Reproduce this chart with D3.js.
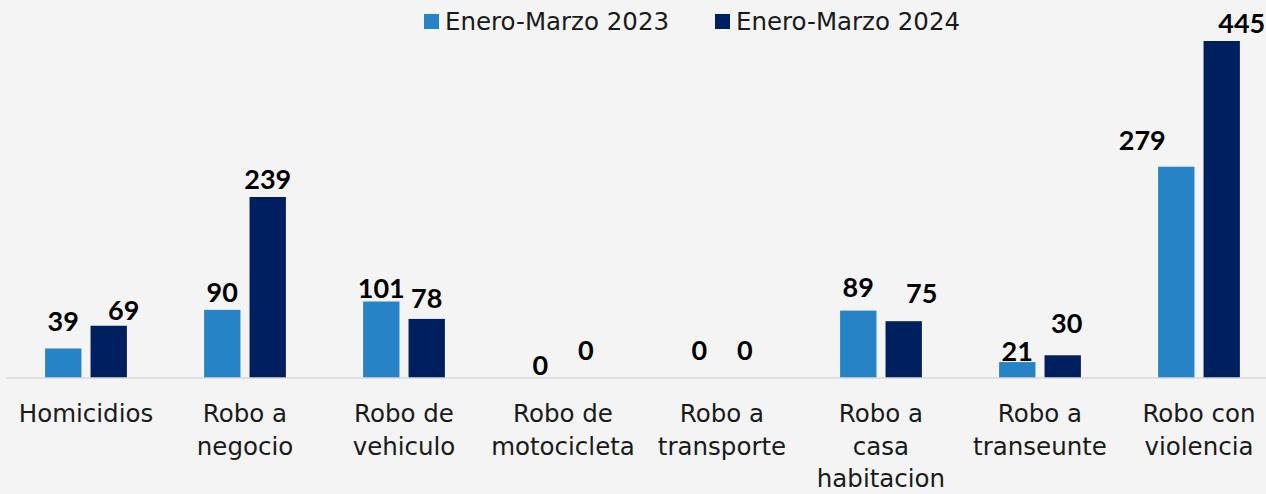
<!DOCTYPE html>
<html>
<head>
<meta charset="utf-8">
<script src="https://d3js.org/d3.v7.min.js"></script>
<style>
   body { margin: 0; background: #f4f4f4; }
   svg { display: block; }
</style>
</head>
<body>
<div id="chart"></div>
<script>
// incidencia delictiva, enero-marzo 2023 vs 2024

var categories = [
   ["Homicidios"],
   ["Robo a", "negocio"],
   ["Robo de", "vehiculo"],
   ["Robo de", "motocicleta"],
   ["Robo a", "transporte"],
   ["Robo a", "casa", "habitacion"],
   ["Robo a", "transeunte"],
   ["Robo con", "violencia"]
];
var series = ["Enero-Marzo 2023", "Enero-Marzo 2024"];
var values2023 = [39, 90, 101, 0, 0, 89, 21, 279];
var values2024 = [69, 239, 78, 0, 0, 75, 30, 445];

// label nudges (the original labels were moved by hand in places)
var nudge2023 = [[0, -9], [0, 0], [0, 4], [0, 5], [0, -10], [0, -6], [0, 7], [-34, -9]];
var nudge2024 = [[15, 2], [0, 0], [0, -3], [0, -10], [0, -10], [18, -10], [4, -14], [20, 0]];

var colors = ["#2683c6", "#001f5f"];
var width = 1266, height = 494;
var baseline = 378;

var svg = d3.select("#chart").append("svg")
   .attr("width", width)
   .attr("height", height);

svg.append("rect")
   .attr("width", width)
   .attr("height", height)
   .attr("fill", "#f4f4f4");

var x0 = d3.scaleBand()
   .domain(d3.range(categories.length))
   .range([6.5, 6.5 + 159 * categories.length]);

var x1 = d3.scaleBand()
   .domain(series)
   .range([0, x0.bandwidth()])
   .paddingInner(0.2)
   .paddingOuter(0.85);

var y = d3.scaleLinear()
   .domain([0, 445])
   .range([baseline, 41]);

var rows = categories.map(function (c, i) {
   return [
      {i: i, s: series[0], v: values2023[i], n: nudge2023[i], c: colors[0]},
      {i: i, s: series[1], v: values2024[i], n: nudge2024[i], c: colors[1]}
   ];
});

var groups = svg.selectAll("g.cat")
   .data(rows)
   .enter().append("g")
   .attr("class", "cat")
   .attr("transform", function (d, i) { return "translate(" + x0(i) + ",0)"; });

groups.selectAll("rect")
   .data(function (d) { return d; })
   .enter().append("rect")
   .attr("x", function (d) { return x1(d.s); })
   .attr("y", function (d) { return y(d.v); })
   .attr("width", x1.bandwidth())
   .attr("height", function (d) { return baseline - y(d.v); })
   .attr("fill", function (d) { return d.c; });

// baseline
svg.append("line")
   .attr("x1", 6).attr("x2", width)
   .attr("y1", baseline).attr("y2", baseline)
   .attr("stroke", "#d9d9d9")
   .attr("stroke-width", 1.5);

groups.selectAll("text.val")
   .data(function (d) { return d; })
   .enter().append("text")
   .attr("class", "val")
   .attr("x", function (d) { return x1(d.s) + x1.bandwidth() / 2 + d.n[0]; })
   .attr("y", function (d) { return y(d.v) - 8 + d.n[1]; })
   .attr("text-anchor", "middle")
   .attr("font-family", "Lato, sans-serif")
   .attr("font-weight", "bold")
   .attr("font-size", 27)
   .attr("fill", "#000")
   .text(function (d) { return d.v; });

// category labels
groups.append("text")
   .attr("text-anchor", "middle")
   .attr("font-family", "DejaVu Sans, sans-serif")
   .attr("font-size", 24.5)
   .attr("fill", "#1a1a1a")
   .selectAll("tspan")
   .data(function (d, i) { return categories[i]; })
   .enter().append("tspan")
   .attr("x", x0.bandwidth() / 2)
   .attr("y", function (d, j) { return 422 + j * 32.5; })
   .text(function (d) { return d; });

// legend
var legendX = [424, 715];
var legend = svg.selectAll("g.legend")
   .data(series)
   .enter().append("g")
   .attr("class", "legend")
   .attr("transform", function (d, i) { return "translate(" + legendX[i] + ",0)"; });

legend.append("rect")
   .attr("x", 0).attr("y", 14)
   .attr("width", 15).attr("height", 15)
   .attr("fill", function (d, i) { return colors[i]; });

legend.append("text")
   .attr("x", 21).attr("y", 30)
   .attr("font-family", "DejaVu Sans, sans-serif")
   .attr("font-size", 24.5)
   .attr("fill", "#1a1a1a")
   .text(function (d) { return d; });
</script>
</body>
</html>
